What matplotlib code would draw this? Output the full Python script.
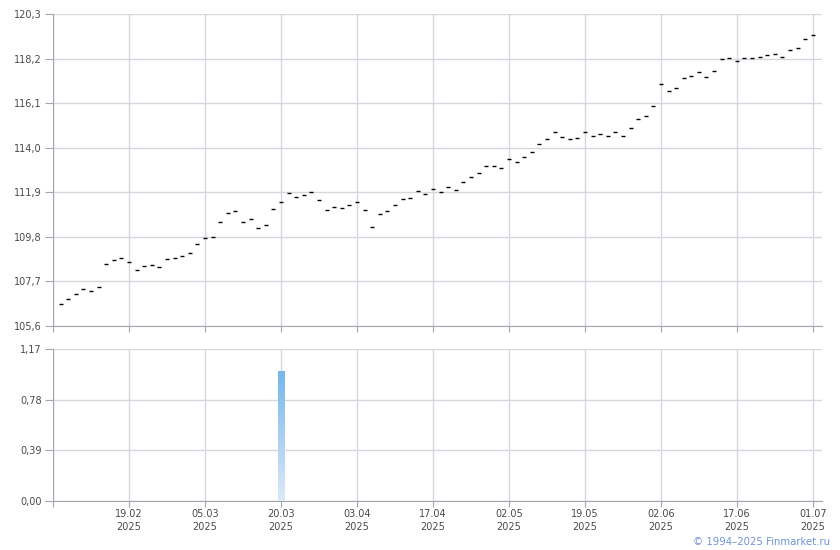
import matplotlib
matplotlib.use("Agg")
import matplotlib.pyplot as plt
import numpy as np

# prices, one per trading day
prices = [
    106.64, 106.88, 107.11, 107.35, 107.27, 107.44, 108.53, 108.72, 108.81, 108.62,
    108.25, 108.43, 108.48, 108.39, 108.76, 108.81, 108.90, 109.06, 109.44, 109.75,
    109.80, 110.51, 110.93, 111.03, 110.51, 110.65, 110.22, 110.37, 111.12, 111.45,
    111.87, 111.69, 111.78, 111.92, 111.54, 111.07, 111.21, 111.17, 111.31, 111.45,
    111.07, 110.27, 110.88, 111.03, 111.31, 111.59, 111.64, 111.97, 111.84, 112.06,
    111.92, 112.16, 112.01, 112.39, 112.63, 112.82, 113.16, 113.16, 113.05, 113.48,
    113.33, 113.57, 113.81, 114.18, 114.42, 114.76, 114.51, 114.42, 114.47, 114.72,
    114.56, 114.65, 114.56, 114.76, 114.56, 114.94, 115.36, 115.50, 115.97, 117.01,
    116.68, 116.82, 117.29, 117.39, 117.58, 117.34, 117.62, 118.19, 118.24, 118.09,
    118.24, 118.24, 118.28, 118.38, 118.42, 118.28, 118.61, 118.71, 119.13, 119.32,
]
tick_pos = [9, 19, 29, 39, 49, 59, 69, 79, 89, 99]
tick_dates = ["19.02", "05.03", "20.03", "03.04", "17.04",
              "02.05", "19.05", "02.06", "17.06", "01.07"]
tick_year = "2025"
price_ticks = [105.6, 107.7, 109.8, 111.9, 114.0, 116.1, 118.2, 120.3]
bar_pos = [29]
bar_values = [1.0]
bar_ticks = [0.0, 0.39, 0.78, 1.17]

grid_c = "#d4d8dc"
spine_c = "#a3a6ad"
text_c = "#4a4a4a"

fig = plt.figure(figsize=(8.4, 5.5), dpi=100)
ax1 = fig.add_axes([53/840, 1-326/550, 769/840, 312/550])
ax2 = fig.add_axes([53/840, 1-501/550, 769/840, 152/550])

x = np.arange(len(prices))
ax1.plot(x, prices, ls="none", marker="_", ms=3.2, mew=1.0, color="black")

bars = ax2.bar(bar_pos, bar_values, width=0.8, color="none", edgecolor="none")
grad = np.linspace(1, 0, 256).reshape(-1, 1)
cmap = matplotlib.colors.LinearSegmentedColormap.from_list("g", ["#dde9f6", "#76b6ec"])
for b in bars:
    im = ax2.imshow(grad, cmap=cmap, aspect="auto",
                    extent=[b.get_x(), b.get_x() + b.get_width(), 0, b.get_height()],
                    zorder=3)
    im.set_clip_path(b)

def fmt(v, nd):
    return ("{:.%df}" % nd).format(v).replace(".", ",")

for ax in (ax1, ax2):
    ax.set_xlim(-1, 100.2)
    ax.set_xticks([-1] + tick_pos)
    ax.grid(True, color=grid_c, lw=1)
    ax.set_axisbelow(True)
    for s in ("top", "right"):
        ax.spines[s].set_visible(False)
    for s in ("left", "bottom"):
        ax.spines[s].set_color(spine_c)
    ax.tick_params(axis="y", length=6, color=spine_c, labelcolor=text_c, labelsize=7, pad=2)
    ax.tick_params(axis="x", length=4, color=spine_c, labelcolor=text_c, labelsize=7, pad=2)

ax1.set_ylim(price_ticks[0], price_ticks[-1])
ax1.set_yticks(price_ticks)
ax1.set_yticklabels([fmt(v, 1) for v in price_ticks])
ax1.set_xticklabels([])

ax2.set_ylim(bar_ticks[0], bar_ticks[-1])
ax2.set_yticks(bar_ticks)
ax2.set_yticklabels([fmt(v, 2) for v in bar_ticks])
ax2.set_xticklabels([""] + [d + "\n" + tick_year for d in tick_dates], linespacing=1.3)

fig.text(830/840, 1-542/550, "© 1994–2025 Finmarket.ru", ha="right", va="center",
         fontsize=7.3, color="#6f94d8")

fig.savefig("out.png", dpi=100)
